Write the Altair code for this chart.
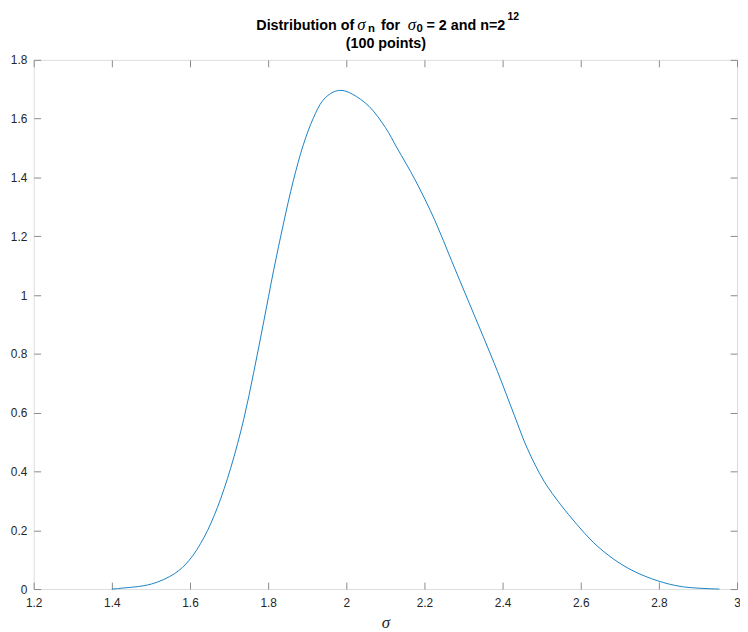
import altair as alt
import pandas as pd

# ---- data ----
sigma = [1.400, 1.417, 1.501, 1.561, 1.598, 1.636, 1.670, 1.704, 1.738, 1.763,
         1.788, 1.814, 1.839, 1.864, 1.890, 1.915, 1.940, 1.966, 1.989, 2.016,
         2.058, 2.100, 2.130, 2.176, 2.227, 2.269, 2.311, 2.350, 2.387, 2.430,
         2.463, 2.506, 2.548, 2.590, 2.632, 2.683, 2.734, 2.797, 2.860, 2.955]
density = [0.000, 0.002, 0.017, 0.053, 0.098, 0.176, 0.277, 0.411, 0.580, 0.737,
           0.905, 1.084, 1.242, 1.387, 1.511, 1.600, 1.662, 1.690, 1.696, 1.683,
           1.642, 1.570, 1.500, 1.392, 1.253, 1.118, 0.984, 0.860, 0.740, 0.591,
           0.479, 0.367, 0.288, 0.220, 0.159, 0.103, 0.062, 0.028, 0.008, 0.000]

x_ticks = [1.2, 1.4, 1.6, 1.8, 2.0, 2.2, 2.4, 2.6, 2.8, 3.0]
y_ticks = [0, 0.2, 0.4, 0.6, 0.8, 1.0, 1.2, 1.4, 1.6, 1.8]

x_title = "σ"
title_line2 = "(100 points)"

W, H = 711, 535
AX = "#8a8a8a"
LAB = "#262626"
FONT = "Liberation Sans"
SERIF = "Liberation Serif"

df = pd.DataFrame({"sigma": sigma, "density": density})
one = pd.DataFrame({"k": [0]})
xs = alt.Scale(domain=[1.2, 3.0], nice=False, zero=False)
ys = alt.Scale(domain=[0, 1.8], nice=False, zero=False)


def tick_axis(orient, offset, vals):
    return alt.Axis(orient=orient, offset=offset, values=vals, labels=False,
                    domain=False, ticks=True, tickSize=7, tickColor=AX,
                    tickWidth=1, grid=False, title="")


main = alt.Chart(df).mark_line(color="#0072BD", strokeWidth=0.9,
                               interpolate="catmull-rom").encode(
    x=alt.X("sigma:Q", scale=xs,
            axis=alt.Axis(orient="bottom", values=x_ticks, format="~g",
                          labelFont=FONT, labelFontSize=12, labelColor=LAB,
                          labelPadding=9, labelFlush=False, labelOverlap=False,
                          ticks=False, tickSize=0, domain=False, grid=False,
                          title=x_title, titleFont=SERIF,
                          titleFontStyle="italic", titleFontWeight="normal",
                          titleFontSize=17, titleColor=LAB, titlePadding=6)),
    y=alt.Y("density:Q", scale=ys,
            axis=alt.Axis(orient="left", values=y_ticks, format="~g",
                          labelFont=FONT, labelFontSize=12, labelColor=LAB,
                          labelPadding=7, labelFlush=False, labelOverlap=False,
                          ticks=False, tickSize=0, domain=False, grid=False,
                          title="")),
)

ghost1 = alt.Chart(df).mark_line(strokeOpacity=0).encode(
    x=alt.X("sigma:Q", scale=xs, axis=tick_axis("top", -H, x_ticks)),
    y=alt.Y("density:Q", scale=ys, axis=tick_axis("right", -W, y_ticks)),
)
ghost2 = alt.Chart(df).mark_line(strokeOpacity=0).encode(
    x=alt.X("sigma:Q", scale=xs, axis=tick_axis("bottom", -H, x_ticks)),
    y=alt.Y("density:Q", scale=ys, axis=tick_axis("left", -W, y_ticks)),
)


def frag(text, x, y, size=14.5, serif=False, align="left"):
    return alt.Chart(one).mark_text(
        text=text, align=align, baseline="alphabetic",
        font=SERIF if serif else FONT,
        fontStyle="italic" if serif else "normal",
        fontWeight="normal" if serif else "bold",
        fontSize=size, color="#000000",
    ).encode(x=alt.value(x), y=alt.value(y))


title_parts = [
    frag("Distribution of", 225, -30),
    frag("σ", 327, -30, size=17, serif=True),
    frag("n", 338, -28, size=11.5),
    frag("for", 351, -30),
    frag("σ", 378, -30, size=17, serif=True),
    frag("0", 387, -28, size=11.5),
    frag("= 2 and n=2", 397, -30),
    frag("12", 479, -40, size=10.5),
    frag(title_line2, 356, -12, align="center"),
]

chart = alt.layer(main, ghost1, ghost2, *title_parts).resolve_axis(
    x="independent", y="independent"
).properties(
    width=W, height=H,
    autosize="none",
    padding={"left": 26, "top": 49, "right": 3, "bottom": 40},
).configure_view(stroke=AX, strokeWidth=1).configure(background="white")

chart.save("out.html", embed_options={"renderer": "svg", "actions": False})
